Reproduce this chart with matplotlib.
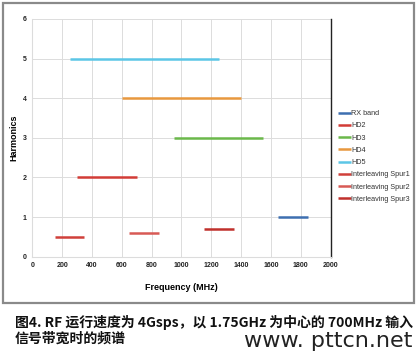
import matplotlib.pyplot as plt
from matplotlib.patches import Rectangle

plt.rcParams['font.family'] = ['Liberation Sans', 'Noto Sans CJK SC', 'DejaVu Sans']

# Bandes de fréquence (MHz) et niveau d'harmonique
labels = ["RX band", "HD2", "HD3", "HD4", "HD5",
          "Interleaving Spur1", "Interleaving Spur2", "Interleaving Spur3"]
f_start = [1650, 300, 950, 600, 250, 150, 650, 1150]
f_end = [1850, 700, 1550, 1400, 1250, 350, 850, 1350]
levels = [1, 2, 3, 4, 5, 0.5, 0.6, 0.7]
colors = ["#3d6fb0", "#d23c36", "#6bb84a", "#e8983e", "#5cc6e6",
          "#d0403a", "#d85a55", "#c0302c"]

x_ticks = list(range(0, 2001, 200))
y_ticks = list(range(0, 7))

fig = plt.figure(figsize=(4.19, 3.51), dpi=100)
ax = fig.add_axes([0.077, 0.2687, 0.712, 0.6772])

# Cadre gris autour du graphique
fig.patches.append(Rectangle((3 / 419, 1 - 303 / 351), 411 / 419, 300 / 351,
                             transform=fig.transFigure, fill=False,
                             edgecolor="#8a8a8a", linewidth=1.6))

for lab, a, b, y, c in zip(labels, f_start, f_end, levels, colors):
    ax.plot([a, b], [y, y], color=c, linewidth=1.8, label=lab,
            solid_capstyle="butt")

ax.set_xlim(0, 2000)
ax.set_ylim(0, 6)
ax.set_xticks(x_ticks)
ax.set_yticks(y_ticks)
ax.grid(True, color="#dcdcdc", linewidth=0.7)
ax.set_axisbelow(True)
ax.tick_params(labelsize=5, length=0, pad=4, colors="#222222")
for t in ax.get_xticklabels() + ax.get_yticklabels():
    t.set_fontweight("bold")
for s in ["left", "bottom", "top"]:
    ax.spines[s].set_color("#dcdcdc")
ax.spines["top"].set_visible(False)
ax.spines["right"].set_color("#222222")
ax.spines["right"].set_linewidth(1.0)

ax.set_ylabel("Harmonics", fontsize=6.5, fontweight="bold", labelpad=3)
ax.set_xlabel("Frequency (MHz)", fontsize=6.5, fontweight="bold", labelpad=10)

fig.legend(loc="upper left", bbox_to_anchor=(0.792, 0.705), frameon=False,
           fontsize=5.2, handlelength=1.7, handletextpad=0.1,
           labelspacing=0.72, labelcolor="#333333")

fig.text(0.035, 1 - 322 / 351, "图4. RF 运行速度为 4Gsps，以 1.75GHz 为中心的 700MHz 输入",
         fontsize=10, va="center", ha="left", color="#111111",
         family=['Noto Sans CJK SC', 'DejaVu Sans'], fontweight="bold")
fig.text(0.035, 1 - 339 / 351, "信号带宽时的频谱",
         fontsize=10, va="center", ha="left", color="#111111",
         family=['Noto Sans CJK SC', 'DejaVu Sans'], fontweight="bold")
fig.text(0.985, 1 - 341 / 351, "www. pttcn.net", fontsize=16, va="center",
         ha="right", color="#222222", family="DejaVu Sans")

fig.savefig("out.png", dpi=100)
